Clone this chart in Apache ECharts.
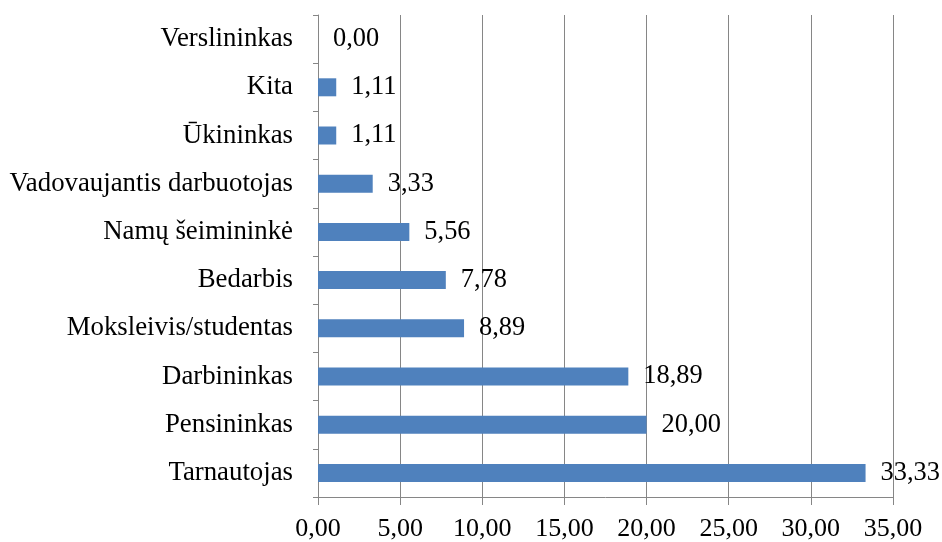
<!DOCTYPE html>
<html><head><meta charset="utf-8">
<script src="https://cdn.jsdelivr.net/npm/echarts@6/dist/echarts.min.js"></script>
<style>html,body{margin:0;padding:0;background:#fff}#c{width:942px;height:542px}</style>
</head><body><div id="c"></div>
<script>
const categories = ["Tarnautojas","Pensininkas","Darbininkas","Moksleivis/studentas","Bedarbis","Namų šeimininkė","Vadovaujantis darbuotojas","Ūkininkas","Kita","Verslininkas"];
const values = [33.33,20.00,18.89,8.89,7.78,5.56,3.33,1.11,1.11,0.00];
const fmt = v => v.toFixed(2).replace('.', ',');
const font = '"Liberation Serif","Times New Roman",serif';
const chart = echarts.init(document.getElementById('c'));
chart.setOption({
  animation:false,
  grid:{left:318,right:49,top:15,bottom:42,containLabel:false},
  xAxis:{type:'value',min:0,max:35,interval:5,
    axisLine:{show:true,lineStyle:{color:'#868686',width:1}},
    axisTick:{show:true,length:8,lineStyle:{color:'#868686'}},
    splitLine:{show:true,lineStyle:{color:'#868686',width:1}},
    axisLabel:{formatter:v=>fmt(v),fontFamily:font,fontSize:26,color:'#000',margin:19}},
  yAxis:{type:'category',data:categories,
    axisLine:{show:true,lineStyle:{color:'#868686',width:1}},
    axisTick:{show:true,length:5,lineStyle:{color:'#868686'}},
    axisLabel:{fontFamily:font,fontSize:26.8,color:'#000',margin:25}},
  series:[{type:'bar',data:values,barWidth:18,
    itemStyle:{color:'#4F81BD'},
    label:{show:true,position:'right',distance:15,formatter:p=>fmt(p.value),fontFamily:font,fontSize:26.4,color:'#000'}}]
});
</script></body></html>
